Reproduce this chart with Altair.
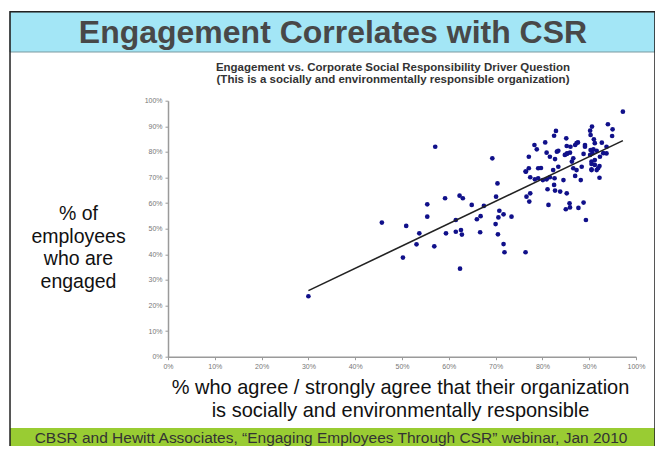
import altair as alt
import pandas as pd

# --- data (percent) ---
csr_pct = [97.2, 94.0, 90.6, 95.0, 90.2, 82.9, 82.5, 94.9, 90.3, 85.1, 91.0, 80.6, 78.3, 87.6, 87.0,
           86.0, 89.1, 91.2, 92.7, 78.8, 85.2, 93.7, 57.1, 90.9, 91.6, 80.9, 83.4, 85.3, 84.8, 85.9,
           81.6, 82.7, 93.7, 77.1, 88.8, 90.2, 92.3, 69.3, 86.3, 91.2, 90.5, 92.2, 79.7, 77.1, 76.5,
           82.3, 87.3, 90.5, 91.6, 77.4, 78.4, 79.1, 80.1, 80.9, 81.6, 82.6, 84.5, 87.0, 88.2, 92.2,
           70.4, 82.5, 81.1, 77.4, 76.6, 83.8, 85.2, 77.2, 82.7, 59.2, 62.3, 63.0, 70.1, 67.5, 64.9,
           55.4, 81.3, 85.8, 88.8, 85.0, 85.9, 87.7, 55.4, 70.8, 71.7, 70.6, 73.4, 66.0, 61.5, 66.8,
           89.3, 45.7, 50.9, 70.0, 53.7, 59.4, 61.5, 62.6, 62.8, 66.7, 70.5, 53.1, 56.9, 50.2, 71.7,
           71.9, 76.4, 62.4, 30.0, 87.3, 89.1, 90.3, 90.7, 93.0, 90.5, 91.2, 91.9, 90.5, 86.6, 88.4,
           86.6, 83.1, 85.2, 76.4, 79.1, 83.4]
engaged_pct = [95.7, 90.8, 89.9, 88.8, 88.3, 88.2, 86.3, 86.2, 86.6, 85.3, 84.9, 83.7, 82.7, 83.7, 82.7,
               82.0, 82.7, 83.4, 83.6, 81.0, 82.3, 82.0, 82.0, 81.0, 80.4, 79.7, 80.4, 79.4, 78.8, 79.7,
               78.1, 77.2, 79.4, 78.1, 79.2, 78.8, 78.1, 77.5, 76.2, 76.8, 75.3, 74.5, 73.7, 73.6, 72.3,
               72.9, 72.9, 73.2, 72.9, 70.1, 69.3, 69.7, 69.0, 69.3, 70.1, 69.7, 69.0, 70.6, 69.0, 69.9,
               67.7, 67.1, 65.4, 63.8, 62.5, 64.5, 63.8, 60.6, 64.9, 61.9, 62.9, 61.9, 62.5, 58.9, 59.3,
               59.5, 59.3, 59.9, 60.2, 57.6, 58.3, 58.1, 54.7, 57.0, 55.6, 54.4, 54.7, 53.7, 53.4, 54.9,
               53.4, 52.4, 51.1, 51.8, 48.2, 48.2, 48.8, 49.5, 47.7, 48.6, 47.8, 43.9, 43.1, 38.7, 44.0,
               40.8, 40.8, 34.4, 23.6, 83.4, 82.0, 80.7, 79.5, 79.5, 76.2, 74.9, 73.6, 72.9, 77.5, 74.2,
               73.6, 80.1, 79.2, 72.3, 73.6, 74.2]
fit_x = [30.0, 97.2]
fit_y = [25.8, 84.4]
tick_values = [0, 10, 20, 30, 40, 50, 60, 70, 80, 90, 100]

main_title = "Engagement Correlates with CSR"
sub_title = ["Engagement vs. Corporate Social Responsibility Driver Question",
             "(This is a socially and environmentally responsible organization)"]
y_title = ["% of", "employees", "who are", "engaged"]
x_title = ["% who agree / strongly agree that their organization",
           "is socially and environmentally responsible"]
footer = "CBSR and Hewitt Associates, \u201cEngaging Employees Through CSR\u201d webinar, Jan 2010"

FONT = "Liberation Sans"

pts = pd.DataFrame({"csr": csr_pct, "eng": engaged_pct})
fit = pd.DataFrame({"csr": fit_x, "eng": fit_y})
one = pd.DataFrame({"a": [0]})

xscale = alt.Scale(domain=[0, 100], nice=False, zero=True)
yscale = alt.Scale(domain=[0, 100], nice=False, zero=True)

x_axis = alt.Axis(values=tick_values, labelExpr="datum.value + '%'", grid=False,
                  labelOverlap=False, labelFlush=False, tickCount=11,
                  domainColor="#9a9a9a", domainWidth=1.5, tickColor="#9a9a9a", tickSize=3,
                  labelFontSize=7, labelColor="#777", labelFont=FONT, labelPadding=3,
                  title=x_title, titleFont=FONT, titleFontSize=20, titleFontWeight="normal",
                  titleColor="#111", titleLineHeight=23, titleAnchor="middle",
                  titleX=232, titleY=21, titleBaseline="top")
y_axis = alt.Axis(values=tick_values, labelExpr="datum.value + '%'", grid=False,
                  labelOverlap=False, labelFlush=False, tickCount=11,
                  domainColor="#9a9a9a", domainWidth=1.5, tickColor="#9a9a9a", tickSize=3,
                  labelFontSize=7, labelColor="#777", labelFont=FONT, labelPadding=3,
                  title=y_title, titleFont=FONT, titleFontSize=19.5, titleFontWeight="normal",
                  titleColor="#111", titleLineHeight=22.5, titleAngle=0, titleAlign="center",
                  titleX=-90, titleY=104, titleBaseline="top")

# decorative bands
title_band = alt.Chart(one).mark_rect(color="#a3e6f6", stroke="#7a9aa0", strokeWidth=1).encode(
    x=alt.value(-158), x2=alt.value(487), y=alt.value(-89), y2=alt.value(-48.7))
green_band = alt.Chart(one).mark_rect(color="#99cc33").encode(
    x=alt.value(-158), x2=alt.value(487), y=alt.value(327.3), y2=alt.value(354))
frame = alt.Chart(one).mark_rect(fill=None, stroke="#222", strokeWidth=1.5).encode(
    x=alt.value(-158), x2=alt.value(487), y=alt.value(-89), y2=alt.value(354))

title_txt = alt.Chart(one).mark_text(font=FONT, fontSize=32, fontWeight="bold", color="#484848",
                                     baseline="middle", align="center").encode(
    x=alt.value(165), y=alt.value(-68), text=alt.value(main_title))
sub_txt = alt.Chart(one).mark_text(font=FONT, fontSize=11.5, fontWeight="bold", color="#333",
                                   baseline="middle", align="center", lineHeight=12).encode(
    x=alt.value(225), y=alt.value(-32.7), text=alt.value(sub_title))
foot_txt = alt.Chart(one).mark_text(font=FONT, fontSize=15.5, color="#333",
                                    baseline="middle", align="center").encode(
    x=alt.value(163), y=alt.value(337.5), text=alt.value(footer))

points = alt.Chart(pts).mark_circle(size=22, color="#10108a", opacity=1).encode(
    x=alt.X("csr:Q", scale=xscale, axis=x_axis),
    y=alt.Y("eng:Q", scale=yscale, axis=y_axis))
line = alt.Chart(fit).mark_line(color="#222", strokeWidth=1.6).encode(
    x=alt.X("csr:Q", scale=xscale, axis=x_axis), y=alt.Y("eng:Q", scale=yscale, axis=y_axis))

chart = alt.layer(title_band, green_band, frame, title_txt, sub_txt, foot_txt, points, line).properties(
    width=468, height=256, autosize="none",
    padding={"left": 160, "top": 92.7, "right": 19, "bottom": 89},
    background="white"
).configure_view(stroke=None)

chart.save("out.html", embed_options={"renderer": "svg", "actions": False})
